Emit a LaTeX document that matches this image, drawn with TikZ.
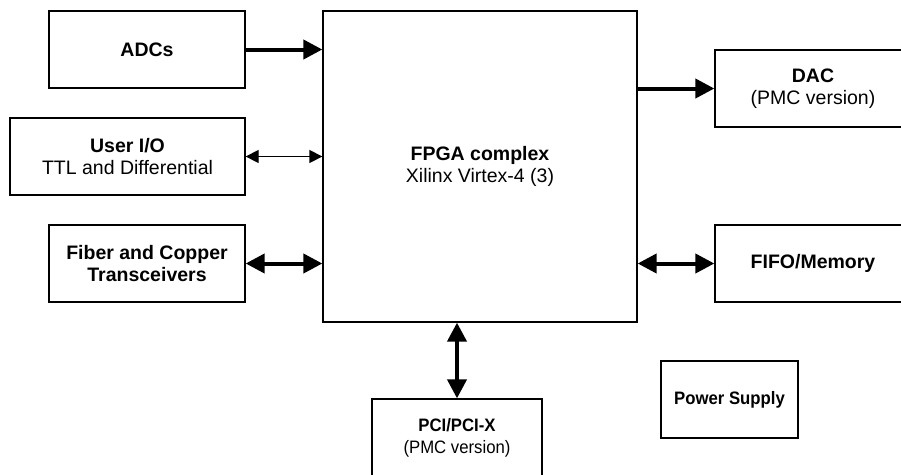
\documentclass[tikz,border=0pt]{standalone}
\usepackage{fontspec}
\setmainfont{Liberation Sans}
\newfontfamily\narrowfont[FakeStretch=0.93]{Liberation Sans}
\usetikzlibrary{arrows.meta}
\begin{document}
\begin{tikzpicture}[x=1pt,y=-1pt,
  blk/.style={draw, line width=1.3pt, inner sep=0pt, align=center,
    font=\fontsize{19.5}{22.5}\selectfont},
  smalltext/.style={font=\narrowfont\fontsize{18}{21.5}\selectfont},
  thickarr/.style={line width=4pt, -{Triangle[length=19pt,width=19pt]}},
  thickboth/.style={line width=4pt, {Triangle[length=19pt,width=19pt]}-{Triangle[length=19pt,width=19pt]}},
  thinboth/.style={line width=1.3pt, {Triangle[length=13pt,width=13pt]}-{Triangle[length=13pt,width=13pt]}}]
\useasboundingbox (0,0) rectangle (901,474);
\clip (0,0) rectangle (901,474);
\node[blk, minimum width=196pt, minimum height=77pt] (adc) at (147,49.5) {\textbf{ADCs}};
\node[blk, minimum width=235pt, minimum height=77pt] (uio) at (127.5,156.5) {\textbf{User I/O}\\TTL and Differential};
\node[blk, minimum width=196pt, minimum height=77pt] (fib) at (147,263.5) {\textbf{Fiber and Copper}\\\textbf{Transceivers}};
\node[blk, minimum width=314pt, minimum height=311pt] (fpga) at (480,166.5) {\textbf{FPGA complex}\\Xilinx Virtex-4 (3)};
\node[blk, minimum width=196pt, minimum height=77pt] (dac) at (813,88.5) {\textbf{DAC}\\(PMC version)};
\node[blk, minimum width=196pt, minimum height=77pt] (fifo) at (813,263.5) {\textbf{FIFO/Memory}};
\node[blk, smalltext, minimum width=170pt, minimum height=78pt] (pci) at (457,438) {\textbf{PCI/PCI-X}\\(PMC version)};
\node[blk, smalltext, minimum width=137pt, minimum height=77pt] (pwr) at (729.5,399.5) {\textbf{Power Supply}};
\draw[thickarr] (adc.east) -- (adc.east -| fpga.west);
\draw[thinboth] (uio.east) -- (uio.east -| fpga.west);
\draw[thickboth] (fib.east) -- (fib.east -| fpga.west);
\draw[thickarr] (fpga.east |- dac.west) -- (dac.west);
\draw[thickboth] (fpga.east |- fifo.west) -- (fifo.west);
\draw[thickboth] (pci.north) -- (pci.north |- fpga.south);
\end{tikzpicture}
\end{document}
